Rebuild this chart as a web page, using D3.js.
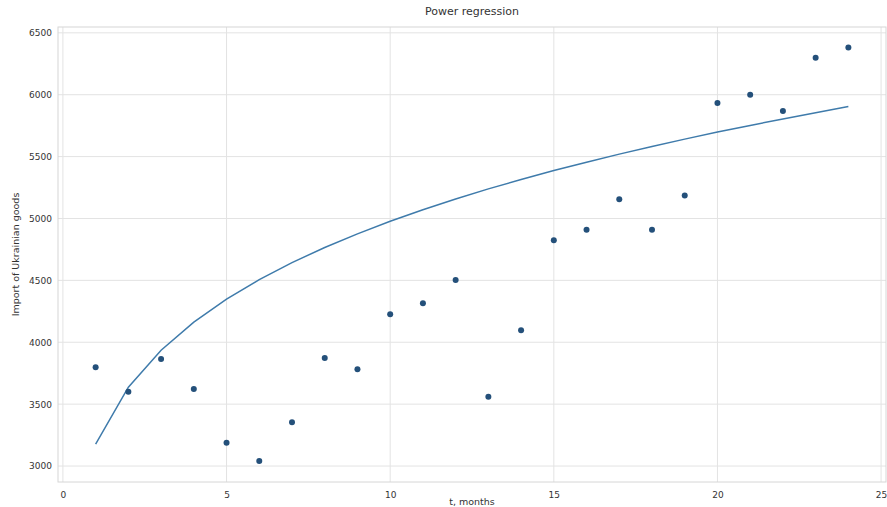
<!DOCTYPE html>
<html>
<head>
<meta charset="utf-8">
<script src="https://cdn.jsdelivr.net/npm/d3@7"></script>
<style>
  html, body { margin: 0; padding: 0; background: #fff; }
  svg { display: block; }
  text { font-family: "DejaVu Sans", sans-serif; fill: #333; }
</style>
</head>
<body>
<svg id="chart" width="887" height="507"></svg>
<script>
// ---- data ----
const months = [1,2,3,4,5,6,7,8,9,10,11,12,13,14,15,16,17,18,19,20,21,22,23,24];
const imports = [3798,3600,3865,3622,3188,3040,3353,3873,3782,4226,4315,4503,3560,4097,4824,4908,5156,4908,5185,5932,5999,5869,6298,6381];
const fitted = [3177,3637,3936,4163,4348,4506,4643,4766,4876,4977,5071,5158,5239,5315,5387,5455,5520,5582,5641,5698,5752,5804,5855,5904];
const xTicks = [0,5,10,15,20,25];
const yTicks = [3000,3500,4000,4500,5000,5500,6000,6500];
const titleText = "Power regression";
const xLabel = "t, months";
const yLabel = "Import of Ukrainian goods";

// ---- layout ----
const svg = d3.select("#chart");
const pLeft = 58, pRight = 886, pTop = 27, pBottom = 482;

const x = d3.scaleLinear().domain([-0.15, 25.15]).range([pLeft, pRight]);
const y = d3.scaleLinear().domain([2871, 6547]).range([pBottom, pTop]);

// grid
const g = svg.append("g");
g.selectAll("line.gx").data(xTicks).enter().append("line")
  .attr("x1", d => x(d)).attr("x2", d => x(d))
  .attr("y1", pTop).attr("y2", pBottom)
  .attr("stroke", "#e3e3e3").attr("stroke-width", 1);
g.selectAll("line.gy").data(yTicks).enter().append("line")
  .attr("y1", d => y(d)).attr("y2", d => y(d))
  .attr("x1", pLeft).attr("x2", pRight)
  .attr("stroke", "#e3e3e3").attr("stroke-width", 1);

// frame
svg.append("rect").attr("x", pLeft).attr("y", pTop)
  .attr("width", pRight - pLeft).attr("height", pBottom - pTop)
  .attr("fill", "none").attr("stroke", "#d6d6d6").attr("stroke-width", 1);

// axes (labels only)
const xAxis = d3.axisBottom(x).tickValues(xTicks).tickSize(0).tickPadding(10).tickFormat(d3.format("d"));
const yAxis = d3.axisLeft(y).tickValues(yTicks).tickSize(0).tickPadding(6).tickFormat(d3.format("d"));
const gx = svg.append("g").attr("transform", `translate(0,${pBottom})`).call(xAxis);
const gy = svg.append("g").attr("transform", `translate(${pLeft},0)`).call(yAxis);
[gx, gy].forEach(a => {
  a.select(".domain").remove();
  a.selectAll("text").attr("font-size", 9).attr("fill", "#444")
    .attr("font-family", "DejaVu Sans, sans-serif");
});

// fitted line
svg.append("path")
  .datum(months.map((m, i) => [m, fitted[i]]))
  .attr("fill", "none").attr("stroke", "#3f7bab").attr("stroke-width", 1.5)
  .attr("d", d3.line().x(d => x(d[0])).y(d => y(d[1])));

// points
svg.selectAll("circle.pt").data(months.map((m, i) => [m, imports[i]])).enter()
  .append("circle")
  .attr("cx", d => x(d[0])).attr("cy", d => y(d[1])).attr("r", 3)
  .attr("fill", "#24507a");

// title and labels
svg.append("text").attr("x", (pLeft + pRight) / 2).attr("y", 15)
  .attr("text-anchor", "middle").attr("font-size", 11).text(titleText);
svg.append("text").attr("x", (pLeft + pRight) / 2).attr("y", 505)
  .attr("text-anchor", "middle").attr("font-size", 9.5).text(xLabel);
svg.append("text")
  .attr("transform", `translate(19,${(pTop + pBottom) / 2}) rotate(-90)`)
  .attr("text-anchor", "middle").attr("font-size", 9.5).text(yLabel);
</script>
</body>
</html>
